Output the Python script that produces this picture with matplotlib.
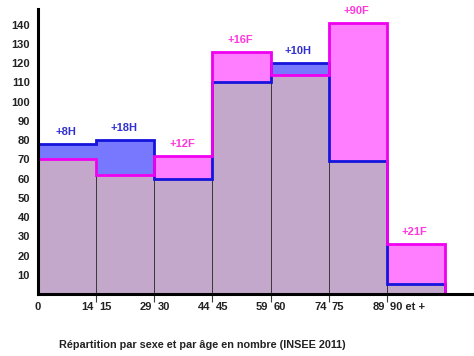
import matplotlib
matplotlib.use("Agg")
import matplotlib.pyplot as plt
import numpy as np

# Age groups (INSEE 2011) and counts by sex
age_groups = ["0-14", "15-29", "30-44", "45-59", "60-74", "75-89", "90 et +"]
hommes = [78, 80, 60, 110, 120, 69, 5]
femmes = [70, 62, 72, 126, 114, 141, 26]
diff_labels = ["+8H", "+18H", "+12F", "+16F", "+10H", "+90F", "+21F"]
diff_sex = ["H", "H", "F", "F", "H", "F", "F"]

y_ticks = [10, 20, 30, 40, 50, 60, 70, 80, 90, 100, 110, 120, 130, 140]
edge_left_labels = ["14", "29", "44", "59", "74", "89"]
edge_right_labels = ["15", "30", "45", "60", "75", "90 et +"]
title = "Répartition par sexe et par âge en nombre (INSEE 2011)"

plt.rcParams["font.family"] = ["Liberation Sans", "DejaVu Sans"]

MAUVE = "#C4A8CC"
BLUE_FILL = "#7878FF"
PINK_FILL = "#FF7DFF"
BLUE_LINE = "#1414DC"
PINK_LINE = "#F000F0"
BLUE_TXT = "#3030D0"
PINK_TXT = "#FF38DC"
TXT = "#222222"

fig = plt.figure(figsize=(4.74, 3.56), dpi=100)
ax = fig.add_axes([0.0802, 0.1742, 0.9198, 0.8006])

n = len(age_groups)
edges = np.arange(n + 1)
centers = edges[:-1] + 0.5
h = np.array(hommes)
f = np.array(femmes)
top = np.maximum(h, f)
low = np.minimum(h, f)

# excess part coloured by the larger group
excess_col = [BLUE_FILL if hh > ff else PINK_FILL for hh, ff in zip(h, f)]
ax.bar(centers, top, width=1.0, color=excess_col, edgecolor="none", zorder=1)
# common part
ax.bar(centers, low, width=1.0, color=MAUVE, edgecolor="#3a3a3a",
       linewidth=0.7, zorder=2)

# outlines of each population
ax.stairs(h, edges, baseline=0, color=BLUE_LINE, linewidth=2.0, zorder=3)
ax.stairs(f, edges, baseline=0, color=PINK_LINE, linewidth=2.0, zorder=4)

# difference labels
for c, t, lab, s in zip(centers, top, diff_labels, diff_sex):
    ax.annotate(lab, xy=(c, t), xytext=(-1, 8.5), textcoords="offset points",
                ha="center", va="center", fontsize=8, fontweight="bold",
                color=BLUE_TXT if s == "H" else PINK_TXT)

ax.set_xlim(0, n + 0.5)
ax.set_ylim(0, 148.2)

ax.set_yticks(y_ticks)
ax.set_yticklabels([str(v) for v in y_ticks], fontsize=8, fontweight="bold",
                   color=TXT)
ax.tick_params(axis="y", length=0, pad=5.8)

ax.set_xticks(edges[1:-1])
ax.set_xticklabels([])
ax.tick_params(axis="x", length=5.8, width=0.8, color="#3a3a3a",
               direction="out")

# age boundary labels on both sides of each tick
lab_kw = dict(xycoords=("data", "axes fraction"), textcoords="offset points",
              va="center", fontsize=8, fontweight="bold", color=TXT,
              annotation_clip=False)
ax.annotate("0", xy=(0, 0), xytext=(0, -9.4), ha="center", **lab_kw)
for x, l_lab, r_lab in zip(edges[1:], edge_left_labels, edge_right_labels):
    ax.annotate(l_lab, xy=(x, 0), xytext=(-1.5, -9.4), ha="right", **lab_kw)
    ax.annotate(r_lab, xy=(x, 0), xytext=(2.2, -9.4), ha="left", **lab_kw)

for side in ("top", "right"):
    ax.spines[side].set_visible(False)
for side in ("left", "bottom"):
    ax.spines[side].set_linewidth(2.2)
    ax.spines[side].set_color("black")
    ax.spines[side].set_zorder(6)

fig.text(0.426, 0.031, title, ha="center", va="center", fontsize=7.8,
         fontweight="bold", color=TXT)

fig.savefig("out.png", dpi=100)
